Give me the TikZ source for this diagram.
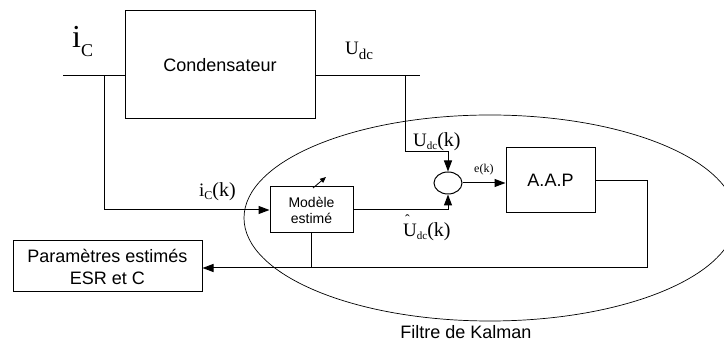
\documentclass[tikz,border=0pt]{standalone}
\usepackage{fontspec}
\setmainfont{Liberation Sans}
\newfontfamily\lbl{Liberation Serif}
\usetikzlibrary{arrows.meta,shapes.geometric}
\begin{document}
\begin{tikzpicture}[x=1pt,y=-1pt,
  box/.style={draw, line width=1pt, rectangle, inner sep=0pt, align=center, font=\fontsize{18}{20}\selectfont},
  wire/.style={line width=1pt},
  arr/.style={wire, -{Triangle[length=11pt,width=8pt]}},
  lab/.style={inner sep=0pt, anchor=base west, font=\lbl}]
\useasboundingbox (0,0) rectangle (724,344);
\clip (0,0) rectangle (724,344);
% blocks
\node[box, minimum width=190pt, minimum height=108pt] (cond) at (220,65) {Condensateur};
\node[box, minimum width=83pt, minimum height=46pt, font=\fontsize{14}{16}\selectfont] (model) at (311.5,210) {Modèle\\estimé};
\node[box, minimum width=89pt, minimum height=65pt] (aap) at (550.5,180.5) {A.A.P};
\node[box, minimum width=189pt, minimum height=51pt, font=\fontsize{18}{22}\selectfont] (params) at (107.5,266.5) {Paramètres estimés\\ESR et C};
\node[draw, line width=1pt, ellipse, minimum width=28pt, minimum height=22pt, inner sep=0pt] (sum) at (448,183) {};
\node[draw, line width=0.7pt, ellipse, minimum width=492pt, minimum height=206pt, inner sep=0pt] (kal) at (490,218) {};
\node[font=\fontsize{18}{20}\selectfont, anchor=base, inner sep=0pt] (kallab) at (466,339) {Filtre de Kalman};
% coordinates
\coordinate (inL) at (63,76);
\coordinate (outR) at (420,76);
\coordinate (tapL) at (104,76);
\coordinate (tapR) at (405,76);
\coordinate (ukc) at (448,152);
\coordinate (fbR) at (647,268);
\coordinate (mA) at (313,188);
\coordinate (mB) at (326,177);
% connectors
\draw[wire] (inL) -- (inL -| cond.west);
\draw[wire] (cond.east |- outR) -- (outR);
\draw[arr] (tapL) |- (model.west);
\draw[arr] (tapR) |- (ukc) -- (sum.north);
\draw[arr] (model.east) -| (sum.south);
\draw[arr] (sum.east) -- (sum.east -| aap.west);
\draw[arr] (aap.east) -| (fbR) -- (fbR -| params.east);
\draw[wire] (model.south) -- (model.south |- fbR);
\draw[line width=0.8pt, -{Triangle[length=6pt,width=5pt]}] (mA) -- (mB);
% labels
\node[lab] (lic) at (72,48) {\fontsize{32}{32}\selectfont i\raisebox{-9pt}{\fontsize{18}{18}\selectfont C}};
\node[lab] (lud) at (345,55) {\fontsize{19}{19}\selectfont U\raisebox{-5pt}{\fontsize{15}{15}\selectfont dc}};
\node[lab] (ludk) at (413,147) {\fontsize{19}{19}\selectfont U\raisebox{-3pt}{\fontsize{11}{11}\selectfont dc}\fontsize{20}{20}\selectfont(k)};
\node[lab] (luhk) at (403,237) {\fontsize{19}{19}\selectfont\rlap{\raisebox{12pt}{\hspace{2pt}\fontsize{14}{14}\selectfont ˆ}}U\raisebox{-3pt}{\fontsize{11}{11}\selectfont dc}\fontsize{20}{20}\selectfont(k)};
\node[lab] (lek) at (474,173) {\fontsize{12}{12}\selectfont e(k)};
\node[lab] (lick) at (199,197) {\fontsize{19}{19}\selectfont i\raisebox{-3pt}{\fontsize{12}{12}\selectfont C}\fontsize{20}{20}\selectfont(k)};
\end{tikzpicture}
\end{document}
